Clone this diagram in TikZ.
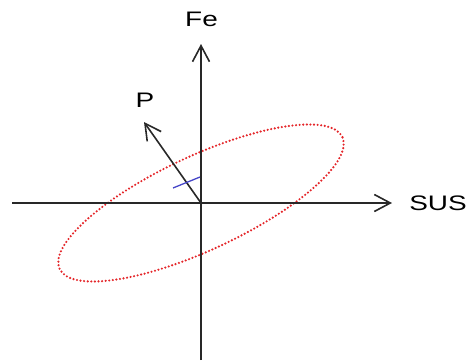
\documentclass[tikz,border=0pt]{standalone}
\usepackage{fontspec}
\usepackage{graphicx}
\setmainfont{Liberation Sans}
\usetikzlibrary{arrows.meta}
\definecolor{axiscol}{RGB}{40,40,40}
\definecolor{ellred}{RGB}{228,38,42}
\definecolor{tickblue}{RGB}{70,70,200}
\tikzset{
  axisline/.style={draw=axiscol, line width=1.6pt, -{Straight Barb[length=16pt,width=17pt,line width=1.6pt]}},
  lbl/.style={font=\fontsize{21}{25}\selectfont, inner sep=0pt, text=black},
  dotell/.style={draw=ellred, line width=2.4pt, line cap=round, dash pattern=on 0pt off 3.6pt},
  ticksty/.style={draw=tickblue, line width=1.3pt}
}
\newcommand{\wide}[1]{\scalebox{1.33}[1]{#1}}
\begin{document}
\begin{tikzpicture}[x=1pt,y=1pt]
\useasboundingbox (0,0) rectangle (474,360);
\coordinate (O) at (201,157);
\coordinate (yb) at (201,0);
\coordinate (yt) at (201,316);
\coordinate (xl) at (12,157);
\coordinate (xr) at (392,157);
\coordinate (pt) at (144,238);
\coordinate (t1) at (173,172);
\coordinate (t2) at (200,183);
\node[lbl] (fe) at (201.5,340.5) {\wide{Fe}};
\node[lbl] (sus) at (438,156.5) {\wide{SUS}};
\node[lbl] (p) at (145,260) {\wide{P}};
\draw[dotell] (O) ellipse [x radius=156, y radius=47, rotate=25];
\draw[axisline] (xl) -- (xr);
\draw[axisline] (yb) -- (yt);
\draw[axisline] (O) -- (pt);
\draw[ticksty] (t1) -- (t2);
\end{tikzpicture}
\end{document}
